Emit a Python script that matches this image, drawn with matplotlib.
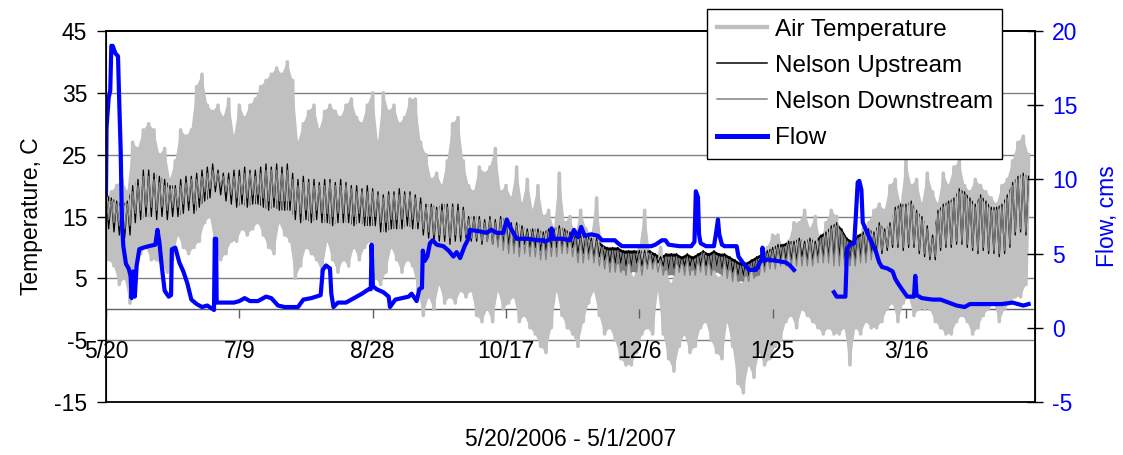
import numpy as np
import matplotlib
matplotlib.use('Agg')
import matplotlib.pyplot as plt

plt.rcParams['font.family'] = ['Liberation Sans', 'DejaVu Sans']
plt.rcParams['axes.unicode_minus'] = False

# x axis is days after 5/20/2006
tick_days = [0, 50, 100, 150, 200, 250, 300]
tick_labels = ['5/20', '7/9', '8/28', '10/17', '12/6', '1/25', '3/16']

# Air temperature (C): daily highs on day 0, 2, 4 ... and daily lows on day 1, 3, 5 ...
air_hi = [18, 19, 20, 21, 19, 27, 26, 29, 30, 29, 25, 26, 21, 24, 29, 28, 29, 36, 38, 33, 32, 33, 31, 34, 28, 33, 31, 33, 34,
          36, 37, 38, 39, 38, 40, 37, 27, 30, 32, 33, 29, 32, 33, 32, 31, 33, 34, 31, 30, 33, 35, 27, 35, 32, 33, 30, 31, 34,
          34, 27, 25, 21, 22, 20, 24, 30, 31, 24, 20, 19, 23, 22, 23, 26, 19, 20, 18, 23, 17, 21, 16, 20, 15, 16, 13, 22, 14,
          15, 12, 16, 13, 12, 18, 10, 9, 8, 7, 6, 7, 5, 10, 16, 9, 8, 10, 6, 4, 7, 7, 8, 6, 7, 9, 7, 6, 5,
          7, 6, 7, 4, 5, 6, 5, 8, 10, 12, 12, 10, 11, 14, 14, 16, 13, 15, 11, 14, 16, 15, 11, 8, 9, 11, 13, 14, 16,
          17, 16, 20, 21, 17, 24, 20, 21, 17, 22, 19, 17, 22, 20, 23, 24, 20, 19, 21, 20, 19, 18, 17, 20, 21, 24, 27, 28, 25]
air_lo = [8, 7, 4, 5, 1, 5, 9, 10, 8, 8, 7, 6, 8, 12, 10, 9, 10, 11, 14, 15, 10, 8, 9, 11, 11, 13, 12, 13, 14,
          12, 10, 9, 14, 12, 11, 5, 7, 10, 9, 8, 6, 11, 8, 6, 8, 7, 10, 8, 10, 11, 5, 4, 6, 10, 8, 6, 8, 7,
          3, -1, 2, 0, 4, 1, 2, 1, 3, 2, 3, -1, -2, 0, -2, 3, 0, 1, 2, -2, -1, -3, -4, -6, -7, -3, 3, -1, -3,
          -4, -6, -2, 1, 3, -1, -4, -3, -5, -8, -9, -9, -7, -4, -3, -4, 3, -4, -8, -10, -6, -4, -7, -6, -3, -2, -5, -7, -8,
          -2, -6, -12, -13.5, -9, -11, -7, -9, -8, -6, -5, -2, -1, -3, 0, -1, -2, -3, -4, -3, -4, -4, -3, -9, -3, -4, -2, -3, -3,
          -2, 0, 1, -2, 1, 2, -1, 0, 0, 0, -2, -3, -4, -4, -2, -1, -2, -4, -3, -1, 0, 1, -2, 0, 1, 2, 2, 4]

# Nelson Upstream water temperature (C)
up_hi = [18.5, 18, 17.5, 17, 17.5, 20, 21, 22.5, 22.5, 22, 21.5, 21, 20, 20, 21, 21.5, 21.5, 22, 22.5, 23, 23.5, 22.5, 22, 22, 22.5, 22.5, 23, 22.5, 22.5,
         23, 23.5, 23, 23.5, 23, 23.5, 22, 21, 21.5, 21, 21, 20.5, 21, 21, 20.5, 21, 20.5, 20, 20, 19.5, 20, 19.5, 19, 18.5, 19, 19, 19.5, 19, 19,
         18.5, 18, 17, 17, 16.5, 17, 17, 17, 17, 16.5, 15, 15, 15, 14.5, 15, 14.5, 15, 14.5, 14, 14, 13.5, 13, 13, 13, 12.5, 13, 13, 13.5, 13,
         12.5, 12, 12, 12, 11.5, 11.5, 10.5, 10, 10, 10, 9.5, 9.5, 9.5, 9.5, 9.5, 9.5, 9, 8.5, 9, 9, 9, 8.5, 9, 8.5, 9, 9.5, 9, 9.5, 9,
         9, 8.5, 8, 7.5, 7.5, 8, 8.5, 9, 9.5, 10, 10.5, 10.5, 11, 11, 11.5, 11, 11.5, 11, 12, 12.5, 13.5, 14, 13, 11.5, 11, 12, 12.5, 13, 12.5,
         14, 13, 14, 16.5, 17, 17, 17.5, 16, 15, 13.5, 12, 16, 17, 17.5, 18, 19.5, 19, 18, 17, 18.5, 17.5, 16.5, 16.5, 17, 18.5, 20.5, 21.5, 22, 21.5]
up_lo = [13, 12.5, 12, 11.5, 12, 14, 14.5, 15, 15, 14.5, 15, 14.5, 15, 15, 15.5, 16, 15.5, 16.5, 17.5, 18, 19, 18.5, 17.5, 17, 16.5, 17, 16.5, 17, 17,
         16.5, 16, 16.5, 16, 16, 16, 14.5, 14, 14.5, 14, 14.5, 14, 14, 13.5, 14, 14, 14, 13.5, 14, 13.5, 13.5, 13.5, 12.5, 12.5, 13, 13, 13, 13.5, 13,
         13, 12, 11.5, 11, 11, 11, 10.5, 11, 11, 11.5, 11, 11, 10.5, 11, 10.5, 10.5, 10.5, 10.5, 10, 10, 10.5, 10, 10, 9.5, 9.5, 10, 10, 10, 10,
         10, 9, 9, 9, 8.5, 8.5, 8, 7.5, 7.5, 7.5, 7, 7, 7.5, 7, 7, 7.5, 7.5, 7, 6.5, 6.5, 6.5, 7, 7, 6.5, 7, 7, 6.5, 7, 6.5,
         6.5, 6, 5.5, 5.5, 5.5, 6, 6.5, 7, 7.5, 7.5, 8, 8, 8, 8, 8.5, 8, 8, 8.5, 8.5, 8.5, 8.5, 8.5, 8, 8, 8, 8.5, 8.5, 9, 9,
         9, 9.5, 10, 10, 9.5, 10, 10, 9, 8.5, 8, 8, 9.5, 10, 10, 10.5, 10.5, 10, 9.5, 9, 9.5, 9, 9, 8.5, 9, 10, 12, 12.5, 12]

# Nelson Downstream water temperature (C)
dn_hi = [17.5, 17.5, 17, 16.5, 17, 19, 20, 21.5, 21.5, 21, 20.5, 20, 19.5, 19.5, 20, 20.5, 21, 21, 21.5, 22, 22.5, 22, 21.5, 21, 21.5, 21.5, 22, 22, 21.5,
         22, 22.5, 22.5, 22.5, 22, 22.5, 21, 20, 20.5, 20.5, 20, 20, 20, 20.5, 20, 20, 20, 19.5, 19, 19, 19, 19, 18.5, 18, 18.5, 18.5, 18.5, 18.5, 18.5,
         18, 17, 16.5, 16.5, 16, 16, 16.5, 16.5, 16, 16, 14.5, 14.5, 14.5, 14, 14.5, 14, 14.5, 14, 13.5, 13.5, 13, 12.5, 12.5, 12.5, 12, 12.5, 12.5, 13, 12.5,
         12, 11.5, 11.5, 11.5, 11, 11, 10, 9.5, 9.5, 9.5, 9, 9, 9, 9, 9, 9, 8.5, 8, 8.5, 8.5, 8.5, 8, 8.5, 8, 8.5, 9, 8.5, 9, 8.5,
         8.5, 8, 7.5, 7, 7, 7.5, 8, 8.5, 9, 9.5, 10, 10, 10.5, 10.5, 11, 10.5, 11, 10.5, 11.5, 12, 13, 13.5, 12.5, 11, 10.5, 11.5, 12, 12.5, 12,
         13.5, 12.5, 13.5, 16, 16.5, 16.5, 17, 15.5, 14.5, 13, 11.5, 15.5, 16.5, 17, 17.5, 19, 18.5, 17.5, 16.5, 18, 17, 16, 16, 16.5, 18, 20, 21, 21.5, 21]
dn_lo = [14.5, 14, 13.5, 13, 13.5, 15.5, 16, 16.5, 16.5, 16, 16.5, 16, 16.5, 16.5, 17, 17.5, 17, 18, 19, 19.5, 20, 20, 19, 18.5, 18, 18.5, 18, 18.5, 18.5,
         18, 17.5, 18, 17.5, 17.5, 17.5, 16, 15.5, 16, 15.5, 16, 15.5, 15.5, 15, 15.5, 15.5, 15.5, 15, 15.5, 15, 15, 15, 14, 14, 14.5, 14.5, 14.5, 15, 14.5,
         14, 13, 12.5, 12, 12, 12, 11.5, 12, 12, 12, 11.5, 11.5, 11, 11, 10.5, 10, 9.5, 9, 9, 8.5, 9, 8.5, 8.5, 8, 8, 8.5, 8.5, 9, 9,
         8.5, 7.5, 7.5, 8, 7.5, 7, 6.5, 6, 6, 6, 5.5, 6, 6, 5.5, 6.5, 6.5, 6, 5.5, 5.5, 5.5, 6, 5.5, 5.5, 5.5, 6, 5.5, 5.5, 6, 5.5,
         5, 4.5, 4.5, 4.5, 4.5, 5, 5.5, 6, 6.5, 6.5, 7, 7, 7, 7, 7, 7, 7, 7.5, 7.5, 7.5, 7, 7, 7, 7, 7, 7.5, 7.5, 8, 8,
         9.5, 10, 10.5, 10.5, 10, 10.5, 10.5, 9.5, 9, 8.5, 8.5, 10, 10.5, 10.5, 11, 11, 10.5, 10, 9.5, 10, 9.5, 9.5, 9, 9.5, 10.5, 12.5, 13, 12.5]

# Flow (cms), gauge readings; nan marks the missing record in February
flow_day = [0, 0.2, 1.0, 1.6, 2.0, 2.5, 3.5, 4.5, 5.0, 5.5, 6.0, 6.5, 7.5, 8.5, 9.2, 9.6, 10.2, 10.8, 11.5, 12.5,
            14, 16, 18.5, 19.3, 20.0, 21.0, 22.0, 23.5, 24.4, 24.7, 26, 27.5, 29, 30.5, 32, 34, 36, 38, 40.5, 40.8,
            41.3, 41.5, 44, 48, 50, 52, 54, 57, 60, 62, 64.5, 67, 70, 72, 74, 77, 80.5, 81.3, 82.5, 84,
            84.5, 85.3, 87, 90, 92, 94, 96, 98.5, 99.3, 99.6, 100.1, 101.5, 104, 106, 106.5, 108.5, 111, 113.5, 114.6, 116.5,
            117.5, 118.5, 118.8, 119.5, 120.5, 121.5, 122.5, 124, 126.5, 128.5, 130.3, 131.5, 132.8, 134.5, 135.9, 136.5, 140, 142.8, 144.5, 146.5,
            149, 150.3, 151.5, 152.8, 154, 158, 162, 164, 164.6, 166.8, 167.1, 167.75, 171, 174, 175.5, 177, 178.2, 179.5, 182, 184.5,
            186, 190.8, 192, 193.5, 200, 204.5, 206, 208.5, 209.8, 211, 215, 219.5, 220.7, 221.2, 222, 222.4, 223, 225, 228, 228.8,
            229.5, 230, 231, 232, 235, 236.5, 237.2, 238.8, 241.2, 243.8, 245.5, 246, 246.2, 246.8, 248, 252, 255, 256.5, 258, 265,
            273, 274, 277.3, 277.9, 279, 280.6, 281.2, 281.9, 282.5, 283.3, 283.8, 285, 287, 288.8, 290, 291, 293, 295, 296, 297,
            298.5, 300.5, 303, 303.5, 304, 306, 310, 313, 316, 319, 322, 324, 328, 332, 336, 340, 342, 344, 346]
flow_cms = [9.0, 13.5, 15.5, 16.0, 19.0, 19.0, 18.5, 18.3, 15.0, 12.0, 7.0, 5.5, 4.3, 4.0, 3.5, 2.0, 3.8, 2.1, 4.2, 5.3,
            5.4, 5.5, 5.6, 6.6, 5.8, 4.0, 2.5, 2.1, 2.2, 5.3, 5.4, 4.4, 3.8, 3.0, 1.9, 1.6, 1.4, 1.5, 1.2, 6.0,
            6.0, 1.7, 1.7, 1.7, 1.8, 2.0, 1.8, 1.8, 2.1, 2.0, 1.5, 1.4, 1.4, 1.4, 1.9, 2.0, 2.2, 3.9, 4.2, 4.0,
            2.3, 1.4, 1.7, 1.7, 1.9, 2.1, 2.3, 2.6, 2.6, 5.6, 2.8, 2.6, 2.4, 2.1, 1.4, 1.9, 2.0, 2.1, 2.3, 1.8,
            2.6, 2.7, 5.2, 4.5, 4.8, 5.7, 5.9, 5.6, 5.5, 5.2, 4.8, 5.1, 4.7, 5.5, 6.0, 6.6, 6.5, 6.4, 6.6, 6.4,
            6.4, 7.3, 6.8, 6.4, 6.0, 6.0, 5.9, 5.9, 5.8, 6.0, 6.7, 6.0, 6.0, 5.9, 6.6, 6.1, 6.8, 6.2, 6.3, 6.2,
            5.9, 5.9, 5.7, 5.5, 5.5, 5.5, 5.6, 5.9, 5.9, 5.6, 5.5, 5.5, 5.8, 9.2, 8.8, 6.3, 5.7, 5.5, 5.5, 6.4,
            7.3, 6.3, 5.6, 5.5, 5.5, 5.5, 4.8, 4.4, 3.9, 3.9, 4.5, 4.6, 5.4, 4.5, 4.6, 4.5, 4.4, 4.2, 3.9, np.nan,
            2.4, 2.1, 2.1, 5.3, 5.6, 5.7, 7.5, 9.8, 9.9, 9.3, 7.1, 6.6, 5.8, 5.1, 4.4, 4.1, 4.0, 3.8, 3.3, 3.0,
            2.6, 2.1, 2.1, 3.5, 2.2, 2.0, 1.9, 1.9, 1.7, 1.5, 1.4, 1.6, 1.6, 1.6, 1.6, 1.7, 1.6, 1.5, 1.6]


def draw_daily(ax, hi, lo, color, lw, label):
    # highs fall on even days, lows on the odd days between them
    d_hi = np.arange(len(hi)) * 2
    d_lo = np.arange(len(lo)) * 2 + 1
    # shade the daily range, then trace the day-to-day swing on top
    ax.fill(np.r_[d_hi, d_lo[::-1]], np.r_[hi, lo[::-1]], color=color, lw=0)
    t = np.empty(len(hi) + len(lo))
    t[0::2] = hi
    t[1::2] = lo
    line, = ax.plot(np.arange(len(t)), t, color=color, lw=lw, label=label)
    return line


blue = '#0000FF'
fig = plt.figure(figsize=(11.23, 4.55), dpi=100)
ax = fig.add_axes([106 / 1123, 53 / 455, 929 / 1123, 371 / 455])
ax2 = ax.twinx()

# horizontal grid behind the data
for v in range(-5, 36, 10):
    ax.axhline(v, color='#808080', lw=1.0, zorder=0.5)

l_air = draw_daily(ax, air_hi, air_lo, '#C0C0C0', 2.6, 'Air Temperature')
l_up = draw_daily(ax, up_hi, up_lo, 'black', 0.9, 'Nelson Upstream')
l_dn = draw_daily(ax, dn_hi, dn_lo, '#808080', 0.9, 'Nelson Downstream')
l_flow, = ax2.plot(flow_day, flow_cms, color=blue, lw=3.0, label='Flow')

# temperature axis
ax.set_axisbelow(False)
ax.set_xlim(0, 348.4)
ax.set_ylim(-15, 45)
ax.set_yticks(range(-15, 46, 10))
ax.set_xticks(tick_days)
ax.set_xticklabels(tick_labels)
ax.spines['bottom'].set_position(('data', 0))
ax.spines['bottom'].set_color('#606060')
ax.spines['bottom'].set_linewidth(1.0)
ax.spines['bottom'].set_zorder(0.6)
for s in ['left', 'top']:
    ax.spines[s].set_linewidth(1.2)
ax.tick_params(axis='y', direction='out', length=6.5, width=1, pad=7, labelsize=16.5)
ax.tick_params(axis='x', direction='out', length=6.5, width=1, pad=16, labelsize=16.5, color='#606060')
ax.set_ylabel('Temperature, C', fontsize=16.5, labelpad=8)
ax.text(0.5, -0.102, '5/20/2006 - 5/1/2007', transform=ax.transAxes,
        ha='center', va='center', fontsize=16.5)

# flow axis
ax2.set_ylim(-5, 20)
ax2.set_yticks(range(-5, 21, 5))
for s in ['bottom', 'right', 'top']:
    ax2.spines[s].set_linewidth(1.3)
ax2.tick_params(axis='y', direction='inout', length=11, width=1, pad=7,
                labelsize=16.5, labelcolor=blue)
ax2.set_ylabel('Flow, cms', fontsize=16.5, color=blue, labelpad=13)

leg = ax2.legend(handles=[l_air, l_up, l_dn, l_flow], loc='upper left',
                 bbox_to_anchor=(707 / 1123, 1 - 9 / 455), bbox_transform=fig.transFigure,
                 fancybox=False, framealpha=1, edgecolor='black', borderaxespad=0,
                 fontsize=17.5, handlelength=2.05, handletextpad=0.33,
                 labelspacing=0.58, borderpad=0.4)
leg.get_frame().set_linewidth(1.0)
for h in leg.legend_handles:
    h.set_linewidth(h.get_linewidth() * 1.2)

fig.savefig('out.png', dpi=100)
